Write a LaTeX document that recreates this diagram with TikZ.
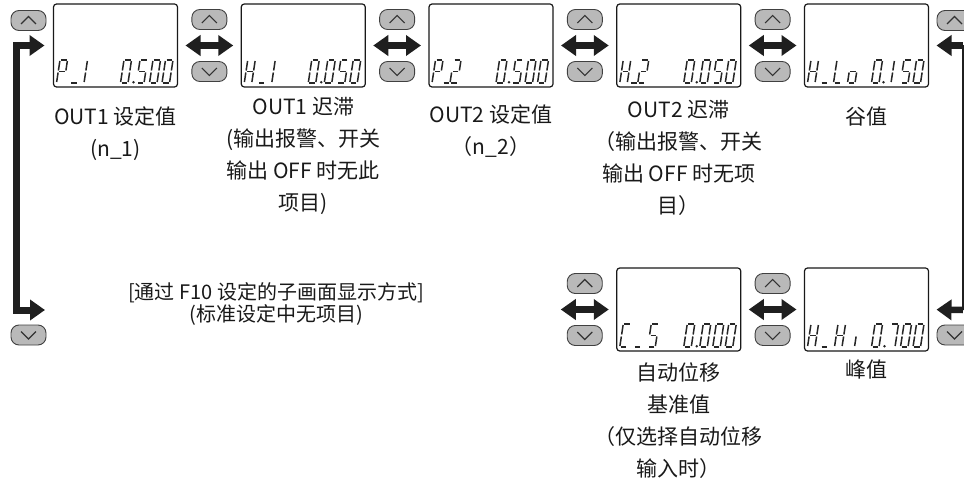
\documentclass[tikz,border=0pt]{standalone}
\usepackage{fontspec}
\newfontfamily\cjk{Noto Sans CJK SC}
\usetikzlibrary{arrows.meta,positioning,calc}

% segment lists of the display characters
\def\sgZero{TL/TR,TR/MR,MR/BR,BR/BL,BL/ML,ML/TL}
\def\sgOne{TR/MR,MR/BR}
\def\sgTwo{TL/TR,TR/MR,MR/ML,ML/BL,BL/BR}
\def\sgFive{TR/TL,TL/ML,ML/MR,MR/BR,BR/BL}
\def\sgSeven{TL/TR,TR/MR,MR/BR}
\def\sgP{BL/ML,ML/TL,TL/TR,TR/MR,MR/ML}
\def\sgH{TL/ML,ML/BL,TR/MR,MR/BR,ML/MR}
\def\sgL{TL/ML,ML/BL,BL/BR}
\def\sgLo{ML/MR,MR/BR,BR/BL,BL/ML}
\def\sgC{TR/TL,TL/ML,ML/BL,BL/BR}
\def\sgI{BL/ML}
\def\sgU{BL/BR}

\newcommand{\segchar}[3]{%
  \edef\seglist{#3}%
  \coordinate (BL) at (#1,#2);
  \coordinate (BR) at (#1+7.5,#2);
  \coordinate (ML) at (#1+1.75,#2-11.5);
  \coordinate (MR) at (#1+9.25,#2-11.5);
  \coordinate (TL) at (#1+3.5,#2-23);
  \coordinate (TR) at (#1+11,#2-23);
  \foreach \p/\q in \seglist {\draw[seg] (\p) -- (\q);}%
}
\newcommand{\segshow}[3]{%
  \begin{scope}[shift={(#1.south west)}]
    \foreach \cx/\ch in {#2} {\segchar{\cx}{-4}{\ch}}
    \fill[segdot] (#3,-4.8) circle (1.4);
  \end{scope}}

\begin{document}
\begin{tikzpicture}[x=1pt,y=-1pt,
    disp/.style={draw=black!90,line width=1.2pt,rounded corners=3pt,fill=white,minimum width=124pt,minimum height=83pt,inner sep=0pt,outer sep=0pt},
    btn/.style={draw=black!75,fill=gray!55,line width=0.9pt,rounded corners=8pt,minimum width=35pt,minimum height=20pt,inner sep=0pt,outer sep=0pt},
    chev/.style={draw=black!80,line width=1.1pt,sharp corners},
    upbtn/.style={btn,path picture={\draw[chev] ($(path picture bounding box.center)+(-7.5,3.5)$) -- ($(path picture bounding box.center)+(0,-4)$) -- ($(path picture bounding box.center)+(7.5,3.5)$);}},
    dnbtn/.style={btn,path picture={\draw[chev] ($(path picture bounding box.center)+(-7.5,-3.5)$) -- ($(path picture bounding box.center)+(0,4)$) -- ($(path picture bounding box.center)+(7.5,-3.5)$);}},
    seg/.style={draw=black!85,line width=1.5pt,line cap=butt,shorten <=1pt,shorten >=1pt},
    segdot/.style={fill=black!85},
    lbl/.style={font=\cjk\fontsize{21}{32}\selectfont,align=center,inner sep=0pt,outer sep=0pt,text=black!90},
    dblarr/.style={{Triangle[length=15pt,width=20pt]}-{Triangle[length=15pt,width=20pt]},line width=6.5pt,draw=black!88,shorten <=8pt,shorten >=8pt},
    onearr/.style={-{Triangle[length=15pt,width=20pt]},line width=6.5pt,draw=black!88,shorten >=8pt},
    brkarr/.style={{Triangle[length=15pt,width=20pt]}-{Triangle[length=15pt,width=20pt]},line width=7pt,draw=black!88,shorten <=9pt,shorten >=9pt}
  ]
  \useasboundingbox (0,0) rectangle (964,481);
  \clip (0,0) rectangle (964,481);

  % displays
  \node[disp] (d1) at (115.5,45.5) {};
  \node[disp,right=63.75pt of d1] (d2) {};
  \node[disp,right=63.75pt of d2] (d3) {};
  \node[disp,right=63.75pt of d3] (d4) {};
  \node[disp,right=63.75pt of d4] (d5) {};
  \node[disp,below=181pt of d4] (dcs) {};
  \node[disp,below=181pt of d5] (dhh) {};

  \segshow{d1}{3/\sgP,16.5/\sgU,23/\sgOne,67/\sgZero,83/\sgFive,96/\sgZero,108.5/\sgZero}{80}
  \segshow{d2}{3/\sgH,16.5/\sgU,23/\sgOne,67/\sgZero,83/\sgZero,96/\sgFive,108.5/\sgZero}{80}
  \segshow{d3}{3/\sgP,13.5/\sgU,21/\sgTwo,67/\sgZero,83/\sgFive,96/\sgZero,108.5/\sgZero}{80}
  \segshow{d4}{3/\sgH,13.5/\sgU,21/\sgTwo,67/\sgZero,83/\sgZero,96/\sgFive,108.5/\sgZero}{80}
  \segshow{d5}{3/\sgH,16/\sgU,29/\sgL,43/\sgLo,67/\sgZero,79/\sgOne,96/\sgFive,108.5/\sgZero}{79}
  \segshow{dcs}{3/\sgC,17/\sgU,31/\sgFive,67/\sgZero,83/\sgZero,96/\sgZero,108.5/\sgZero}{80}
  \segshow{dhh}{3/\sgH,16/\sgU,30/\sgH,50/\sgI,67/\sgZero,83/\sgSeven,96/\sgZero,108.5/\sgZero}{80}

  % keys and arrows between displays
  \foreach \a/\b in {d1/d2,d2/d3,d3/d4,d4/d5,dcs/dhh} {
    \node[upbtn] (u-\a) at ($(\a.east)!.5!(\b.west)+(0,-26)$) {};
    \node[dnbtn] (n-\a) at ($(\a.east)!.5!(\b.west)+(0,26)$) {};
    \draw[dblarr] (\a) -- (\b);
  }
  \coordinate (csl) at ($(dcs.west)+(-64,0)$);
  \node[upbtn] (u-cs) at ($(dcs.west)+(-32,-26)$) {};
  \node[dnbtn] (n-cs) at ($(dcs.west)+(-32,26)$) {};
  \draw[dblarr] (csl) -- (dcs);

  % wrap-around
  \node[upbtn] (u-l) at (28.5,20.5) {};
  \node[dnbtn] (n-l) at (28.5,335) {};
  \node[upbtn] (u-r) at (954.5,20.5) {};
  \node[dnbtn] (n-r) at (954.5,335) {};
  \coordinate (lt) at (16,45.5);
  \coordinate (lb) at (16,310);
  \coordinate (lend) at (54,310);
  \draw[brkarr] (d1.west) -- (lt) -- (lb) -- (lend);
  \coordinate (rt) at (963,45.5);
  \coordinate (rb) at (963,310);
  \draw[line width=2.5pt,draw=black!88] (rt) -- (rb);
  \draw[onearr] (rt) -- (d5.east);
  \draw[onearr] (rb) -- (dhh.east);

  % labels
  \node[lbl,below=20pt of d1] (t1) {OUT1 设定值\\(n\_1)};
  \node[lbl,below=10pt of d2] (t2) {OUT1 迟滞\\(输出报警、开关\\输出 OFF 时无此\\项目)};
  \node[lbl,below=18pt of d3] (t3) {OUT2 设定值\\（n\_2）};
  \node[lbl,below=13pt of d4] (t4) {OUT2 迟滞\\（输出报警、开关\\输出 OFF 时无项\\目）};
  \node[lbl,below=20pt of d5] (t5) {谷值};
  \node[lbl,below=11.5pt of dcs] (tcs) {自动位移\\基准值\\（仅选择自动位移\\输入时）};
  \node[lbl,below=8.5pt of dhh] (thh) {峰值};
  \node[lbl,font=\cjk\fontsize{20}{22}\selectfont,anchor=north] (note) at (276,283) {[通过 F10 设定的子画面显示方式]\\(标准设定中无项目)};
\end{tikzpicture}
\end{document}
